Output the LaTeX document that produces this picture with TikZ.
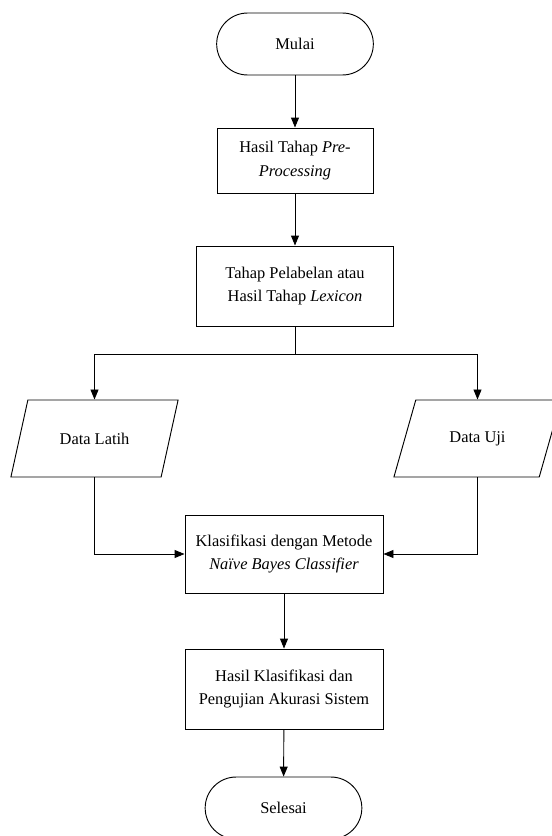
\documentclass[tikz,border=0pt]{standalone}
\usepackage{fontspec}
\setmainfont{Liberation Serif}
\usetikzlibrary{shapes.geometric,arrows.meta}

\tikzset{
  >={Triangle[length=3mm,width=2.4mm]},
  every path/.style={line width=0.8pt},
  every node/.style={font=\fontsize{14}{20}\selectfont, align=center},
  terminal/.style={draw, rectangle, rounded corners=0.93cm, minimum width=4.7cm, minimum height=1.86cm},
  process/.style={draw, rectangle, minimum width=5.94cm, minimum height=2.37cm},
  datain/.style={draw, trapezium, trapezium left angle=63, trapezium right angle=117,
    trapezium stretches=true, minimum width=5.04cm, minimum height=2.31cm}
}

\begin{document}
\begin{tikzpicture}
\useasboundingbox (0,0) rectangle (16.53,-25.08);
\node[terminal] (mulai) at (8.85,-1.32) {Mulai};
\node[process, minimum width=4.68cm, minimum height=1.95cm] (prepro) at (8.85,-4.815) {Hasil Tahap \textit{Pre-}\\\textit{Processing}};
\node[process, minimum width=5.91cm, minimum height=2.4cm] (lexicon) at (8.85,-8.58) {Tahap Pelabelan atau\\Hasil Tahap \textit{Lexicon}};
\coordinate (split) at (8.85,-10.62);
\node[datain] (latih) at (2.835,-13.155) {Data Latih};
\node[datain] (uji) at (14.325,-13.155) {Data Uji};
\node[process, minimum height=2.34cm] (klasifikasi) at (8.52,-16.62) {Klasifikasi dengan Metode\\\textit{Naïve Bayes Classifier}};
\node[process, minimum height=2.4cm] (akurasi) at (8.52,-20.67) {Hasil Klasifikasi dan\\Pengujian Akurasi Sistem};
\node[terminal] (selesai) at (8.505,-24.24) {Selesai};

\draw[->] (mulai) -- (prepro);
\draw[->] (prepro) -- (lexicon);
\draw (lexicon) -- (split);
\draw[->] (split) -| (latih);
\draw[->] (split) -| (uji);
\draw[->] (latih) |- (klasifikasi);
\draw[->] (uji) |- (klasifikasi);
\draw[->] (klasifikasi) -- (akurasi);
\draw[->] (akurasi) -- (selesai);
\end{tikzpicture}
\end{document}
